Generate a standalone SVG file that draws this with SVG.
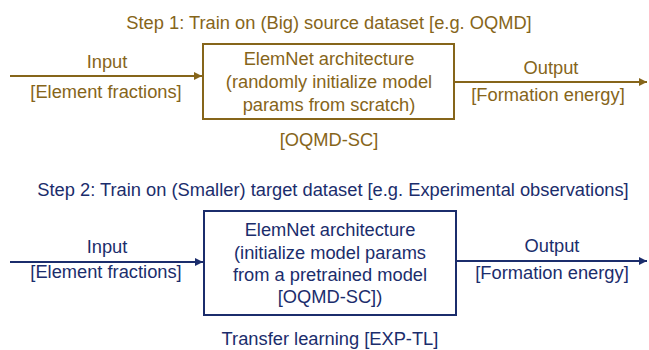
<svg xmlns="http://www.w3.org/2000/svg" width="649" height="350" viewBox="0 0 649 350">
<style>
text{font-family:"Liberation Sans",Arial,sans-serif;font-size:18.3px;text-anchor:middle}
.g{fill:#86651a}
.b{fill:#1b2d6c}
.gs{stroke:#86651a;stroke-width:2;fill:none}
.bs{stroke:#1b2d6c;stroke-width:2;fill:none}
</style>
<defs>
<marker id="ag" viewBox="0 0 8 8" refX="8" refY="4" markerWidth="8" markerHeight="8" markerUnits="userSpaceOnUse" orient="auto"><path d="M0,0 L8,4 L0,8 z" fill="#86651a"/></marker>
<marker id="ab" viewBox="0 0 8 8" refX="8" refY="4" markerWidth="8" markerHeight="8" markerUnits="userSpaceOnUse" orient="auto"><path d="M0,0 L8,4 L0,8 z" fill="#1b2d6c"/></marker>
</defs>
<text class="g" x="329" y="29">Step 1: Train on (Big) source dataset [e.g. OQMD]</text>
<g id="box1">
<rect class="gs" x="203" y="44" width="251" height="75"/>
<text class="g" x="329" y="65">ElemNet architecture</text>
<text class="g" x="329" y="88">(randomly initialize model</text>
<text class="g" x="329" y="111">params from scratch)</text>
</g>
<text class="g" x="329" y="146">[OQMD-SC]</text>
<g id="connectors1">
<line class="gs" x1="10" y1="76" x2="202" y2="76" marker-end="url(#ag)"/>
<line class="gs" x1="455" y1="82" x2="647" y2="82" marker-end="url(#ag)"/>
</g>
<g id="io1">
<text class="g" x="107" y="68">Input</text>
<text class="g" x="106" y="98">[Element fractions]</text>
<text class="g" x="551" y="74">Output</text>
<text class="g" x="548" y="101">[Formation energy]</text>
</g>
<text class="b" x="333" y="196">Step 2: Train on (Smaller) target dataset [e.g. Experimental observations]</text>
<g id="box2">
<rect class="bs" x="204" y="211" width="252" height="104"/>
<text class="b" x="330" y="236">ElemNet architecture</text>
<text class="b" x="330" y="259">(initialize model params</text>
<text class="b" x="330" y="281">from a pretrained model</text>
<text class="b" x="330" y="303">[OQMD-SC])</text>
</g>
<text class="b" x="330" y="345">Transfer learning [EXP-TL]</text>
<g id="connectors2">
<line class="bs" x1="10" y1="262" x2="203" y2="262" marker-end="url(#ab)"/>
<line class="bs" x1="457" y1="261" x2="647" y2="261" marker-end="url(#ab)"/>
</g>
<g id="io2">
<text class="b" x="107" y="253">Input</text>
<text class="b" x="106" y="278">[Element fractions]</text>
<text class="b" x="552" y="252">Output</text>
<text class="b" x="552" y="279">[Formation energy]</text>
</g>
</svg>
